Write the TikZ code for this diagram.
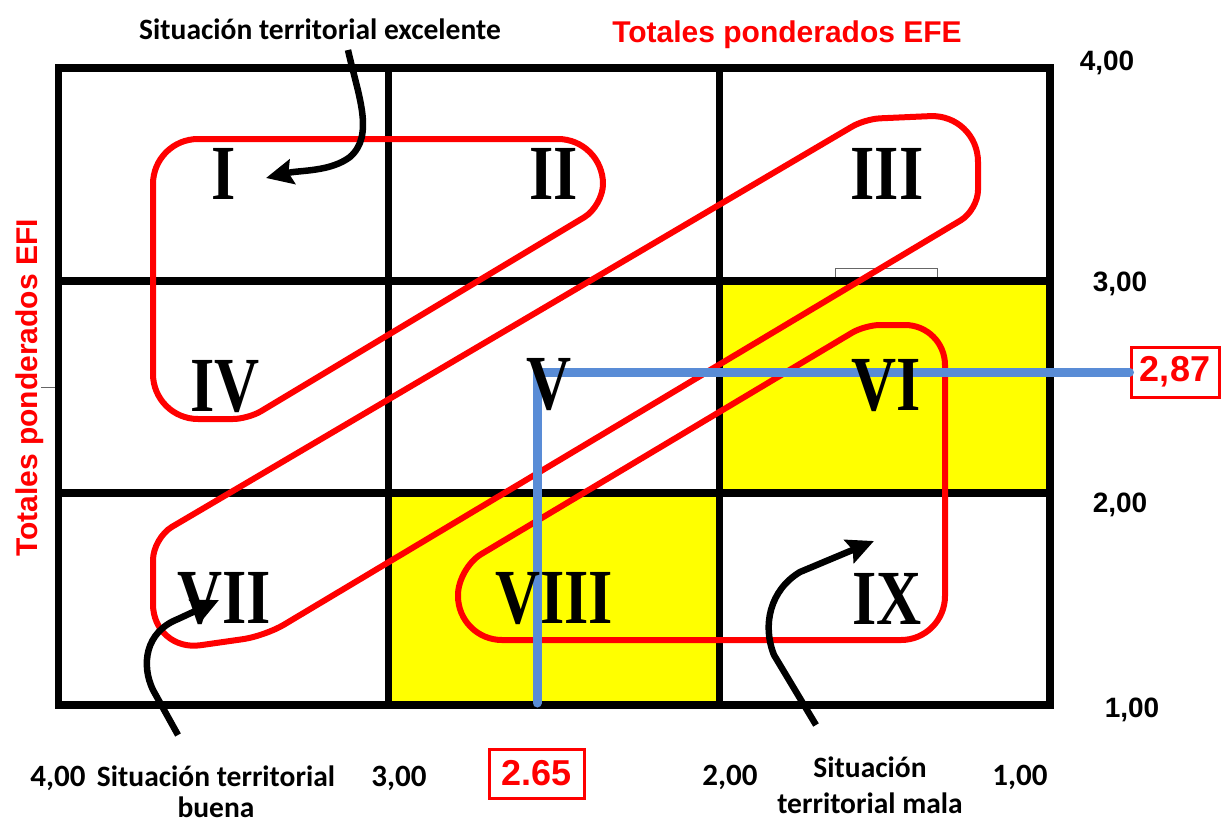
\documentclass[tikz,border=0pt]{standalone}
\usepackage{fontspec}
\usepackage{graphicx}
\usetikzlibrary{arrows.meta}
\setmainfont{Liberation Serif}
\newfontfamily\arialf{Liberation Sans}
\newfontfamily\calibf{Carlito}
\definecolor{myred}{RGB}{255,0,0}
\definecolor{myyellow}{RGB}{255,255,0}
\definecolor{myblue}{RGB}{89,140,214}
\newcommand{\rnum}[1]{\scalebox{0.8}[1]{#1}}
\begin{document}
\begin{tikzpicture}[x=1pt,y=-1pt,
  gridline/.style={line width=7.5pt, black},
  redloop/.style={line width=6pt, myred, line join=round},
  blueline/.style={line width=9pt, myblue, line cap=round, line join=miter},
  blackarrow/.style={line width=6.5pt, black, -{Stealth[length=27pt,width=25pt,inset=4pt]}},
  roman/.style={inner sep=0pt, font=\bfseries\fontsize{78}{78}\selectfont},
  redtitle/.style={inner sep=0pt, text=myred, font=\arialf\bfseries\fontsize{30}{30}\selectfont},
  blacklabel/.style={inner sep=0pt, font=\calibf\bfseries\fontsize{29.5}{33}\selectfont},
  numright/.style={inner sep=0pt, font=\arialf\bfseries\fontsize{28}{28}\selectfont},
  numbottom/.style={inner sep=0pt, font=\calibf\bfseries\fontsize{31}{31}\selectfont},
  valbox/.style={draw=myred, line width=3pt, inner sep=0pt, text=myred, font=\arialf\bfseries\fontsize{36}{36}\selectfont}
]
\useasboundingbox (0,0) rectangle (1221,825);
% yellow cells
\fill[myyellow] (719.5,281) rectangle (1050,493);
\fill[myyellow] (388.5,493) rectangle (719.5,705);
% small rectangle and tick
\draw[line width=1pt, black!60] (835,281) -- (835,268) -- (937,268) -- (937,281);
\draw[line width=1pt, black!60] (41,387) -- (58,387);
% grid
\draw[gridline] (58.5,68) rectangle (1050,705);
\draw[gridline] (388.5,68) -- (388.5,705);
\draw[gridline] (719.5,68) -- (719.5,705);
\draw[gridline] (58.5,281) -- (1050,281);
\draw[gridline] (58.5,493) -- (1050,493);
% red loops (rounding set before "-- P" applies at P)
\draw[redloop] (153,280) [rounded corners=45pt] -- (153,139) -- (603,139)
  [rounded corners=22pt] -- (603,206) [rounded corners=15pt] -- (248,419)
  [rounded corners=45pt] -- (153,419) -- cycle;
\draw[redloop] (509,328.5) [rounded corners=15pt] -- (865,119)
  [rounded corners=48pt] -- (978,114) [rounded corners=20pt] -- (978,210)
  [rounded corners=22pt] -- (265,636) [rounded corners=48pt] -- (153,652)
  [rounded corners=22pt] -- (153,538) -- cycle;
\draw[redloop] (700,640) [rounded corners=44pt] -- (458,640)
  [rounded corners=27pt] -- (458,568) [rounded corners=15pt] -- (865,325)
  [rounded corners=40pt] -- (945,325) [rounded corners=44pt] -- (945,640) -- cycle;
% value boxes
\node[valbox, minimum width=88pt, minimum height=50pt] (b287) at (1175,372) {2,87};
\node[valbox, minimum width=95pt, minimum height=49pt] (b265) at (536.5,773.5) {2.65};
% blue lines
\coordinate (bcorner) at (537,372);
\coordinate (bbottom) at (537,703);
\draw[blueline] (b287.west) -- (bcorner) -- (bbottom);
% roman numerals
\node[roman] (n1) at (224,174) {\rnum{I}};
\node[roman] (n2) at (554,174) {\rnum{II}};
\node[roman] (n3) at (887,174) {\rnum{III}};
\node[roman] (n4) at (225,387) {\rnum{IV}};
\node[roman] (n5) at (549,385) {\rnum{V}};
\node[roman] (n6) at (886,386) {\rnum{VI}};
\node[roman] (n7) at (224,599) {\rnum{VII}};
\node[roman] (n8) at (554,599) {\rnum{VIII}};
\node[roman] (n9) at (887,599) {\rnum{IX}};
% titles
\node[redtitle, anchor=base] (efe) at (787,42) {Totales ponderados EFE};
\node[redtitle, anchor=base, rotate=90] (efi) at (37,388) {Totales ponderados EFI};
% labels
\node[blacklabel, anchor=base] (exc) at (320,39) {Situación territorial excelente};
\node[blacklabel, anchor=base, align=center] (bue) at (216,817) {Situación territorial\\[-2pt]buena};
\node[blacklabel, anchor=base, align=center] (mal) at (870,813) {Situación\\[3pt]territorial mala};
% axis numbers
\node[numright, anchor=base] (r4) at (1107,70) {4,00};
\node[numright, anchor=base] (r3) at (1120,291) {3,00};
\node[numright, anchor=base] (r2) at (1120,512) {2,00};
\node[numright, anchor=base] (r1) at (1132,717) {1,00};
\node[numbottom, anchor=base] (c4) at (58,786) {4,00};
\node[numbottom, anchor=base] (c3) at (399,786) {3,00};
\node[numbottom, anchor=base] (c2) at (730,785) {2,00};
\node[numbottom, anchor=base] (c1) at (1020,785) {1,00};
% arrows
\coordinate (exs) at (348,50);
\coordinate (ext) at (266,178);
\draw[blackarrow] (exs) .. controls (358,95) and (375,135) .. (350,157) .. controls (330,172) and (300,170) .. (ext);
\coordinate (bus) at (178,735);
\coordinate (but) at (219,600);
\draw[blackarrow] (bus) -- (153,690) .. controls (141,665) and (145,632) .. (178,619) -- (but);
\coordinate (mas) at (816,725);
\coordinate (mat) at (874,541);
\draw[blackarrow] (mas) -- (774,655) .. controls (762,625) and (770,590) .. (800,572) -- (mat);
\end{tikzpicture}
\end{document}
